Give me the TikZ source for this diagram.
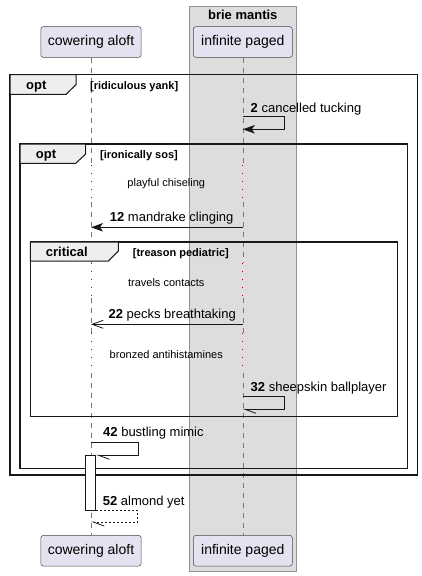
\documentclass[tikz,border=0pt]{standalone}
\usepackage{fontspec}
\setmainfont{Liberation Sans}
\usepackage{tikz}
\usetikzlibrary{arrows.meta,positioning,calc}
\definecolor{seqLilac}{HTML}{E2E2F0}
\definecolor{seqBox}{HTML}{DDDDDD}
\definecolor{seqTab}{HTML}{EEEEEE}
\definecolor{seqInk}{HTML}{181818}
\definecolor{seqLife}{HTML}{777777}
\definecolor{seqCrimson}{HTML}{A80036}

\begin{document}
\begin{tikzpicture}[
  x=1pt, y=-1pt,
  every node/.style={inner sep=0pt, font=\fontsize{13}{15}\selectfont},
  actor/.style={draw=seqInk!80, fill=seqLilac, rounded corners=2.5pt, line width=0.5pt,
                minimum width=99pt, minimum height=30.6pt, inner xsep=7pt,
                font=\fontsize{14}{16}\selectfont},
  life/.style={seqLife, line width=0.6pt, dash pattern=on 5pt off 5pt},
  delay/.style={seqCrimson, line width=0.8pt, dash pattern=on 1pt off 7pt},
  frame/.style={draw=seqInk, line width=1.5pt},
  tab/.style={draw=seqInk, line width=1pt, fill=seqTab},
  tabtitle/.style={anchor=base west, font=\fontsize{13}{15}\selectfont\bfseries},
  guard/.style={anchor=base west, font=\fontsize{11}{13}\selectfont\bfseries},
  pause/.style={font=\fontsize{11}{13}\selectfont},
  lbl/.style={anchor=base west},
  msg/.style={draw=seqInk, line width=0.8pt},
  fullhead/.style={-{Stealth[length=12pt,width=8.5pt,inset=3pt]}},
  thinhead/.style={-{Straight Barb[length=11pt,width=8pt]}},
  halfhead/.style={-{Straight Barb[length=11pt,width=8pt,left]}},
]
\useasboundingbox (0,0) rectangle (422,576);

\draw[draw=seqLife!80, fill=seqBox, line width=0.8pt] (189.3,6) rectangle (296.3,571);
\node[font=\fontsize{13}{15}\selectfont\bfseries] (brie) at (242.8,15) {brie mantis};

\node[actor] (ca_top) at (91,42) {cowering aloft};
\node[actor] (ip_top) at (242.8,42) {infinite paged};
\node[actor] (ca_bot) at (91,550.7) {cowering aloft};
\node[actor] (ip_bot) at (242.8,550.7) {infinite paged};

\foreach \who in {ca,ip}{
  \foreach \ya/\yb in {165/202,263/298,333/373}
    \draw[delay] (\who_top.south |- 0,\ya) -- (\who_top.south |- 0,\yb);
  \draw[life] (\who_top.south) -- (\who_top.south |- 0,165)
              (\who_top.south |- 0,202) -- (\who_top.south |- 0,263)
              (\who_top.south |- 0,298) -- (\who_top.south |- 0,333)
              (\who_top.south |- 0,373) -- (\who_bot.north);
}

\draw[frame] (10,74.7) rectangle (417.7,475);
\draw[tab] (10,74.7) -- ++(66,0) -- ++(0,10) -- ++(-10,9.6) -- (10,94.3) -- cycle;
\node[tabtitle] (opt_a) at (26,89) {opt};
\node[guard] (grd_a) at (90,89) {[ridiculous yank]};

\draw[frame] (20,144) rectangle (407.3,468.3);
\draw[tab] (20,144) -- ++(65.7,0) -- ++(0,10) -- ++(-10,9.3) -- (20,163.3) -- cycle;
\node[tabtitle] (opt_b) at (35.7,158.3) {opt};
\node[guard] (grd_b) at (100,158.3) {[ironically sos]};

\draw[frame] (30.3,242) rectangle (397.7,416.7);
\draw[tab] (30.3,242) -- ++(88,0) -- ++(0,9) -- ++(-10,10) -- (30.3,261) -- cycle;
\node[tabtitle] (crit) at (45.7,256.3) {critical};
\node[guard] (grd_c) at (132.7,256.3) {[treason pediatric]};

\node[pause] (p1) at (166.3,184) {playful chiseling};
\node[pause] (p2) at (166.3,282.3) {travels contacts};
\node[pause] (p3) at (166.3,354.3) {bronzed antihistamines};

\coordinate (m2a) at (ip_top.south |- 0,116.7);
\coordinate (m2b) at (ip_top.south |- 0,129.3);
\draw[msg, fullhead] (m2a) -- ++(42,0) |- (m2b);
\node[lbl] (l2) at ([xshift=7.7pt,yshift=4.5pt]m2a) {\textbf{2} cancelled tucking};

\coordinate (m12a) at (ip_top.south |- 0,227.3);
\coordinate (m12b) at (ca_top.south |- 0,227.3);
\draw[msg, fullhead] (m12a) -- (m12b);
\node[lbl] (l12) at ([xshift=18.7pt,yshift=5.5pt]m12b) {\textbf{12} mandrake clinging};

\coordinate (m22a) at (ip_top.south |- 0,324.3);
\coordinate (m22b) at (ca_top.south |- 0,324.3);
\draw[msg, thinhead] (m22a) -- (m22b);
\node[lbl] (l22) at ([xshift=17.4pt,yshift=5.5pt]m22b) {\textbf{22} pecks breathtaking};

\coordinate (m32a) at (ip_top.south |- 0,396.7);
\coordinate (m32b) at (ip_top.south |- 0,409.3);
\draw[msg, halfhead] (m32a) -- ++(42,0) |- (m32b);
\node[lbl] (l32) at ([xshift=7.7pt,yshift=5pt]m32a) {\textbf{32} sheepskin ballplayer};

\node[draw=seqInk, fill=white, line width=0.8pt, minimum width=10pt, minimum height=54.3pt] (act) at (90.7,482.8) {};

\coordinate (m42a) at (ca_top.south |- 0,442.3);
\draw[msg, halfhead] (m42a) -- ++(47,0) |- (act.north east);
\node[lbl] (l42) at ([xshift=12pt,yshift=5.6pt]m42a) {\textbf{42} bustling mimic};

\coordinate (m52b) at (ca_top.south |- 0,522);
\draw[msg, halfhead, dash pattern=on 2pt off 2pt] (act.south east) -- ++(41.6,0) |- (m52b);
\node[lbl] (l52) at ([xshift=6.6pt,yshift=5pt]act.south east) {\textbf{52} almond yet};
\end{tikzpicture}
\end{document}
